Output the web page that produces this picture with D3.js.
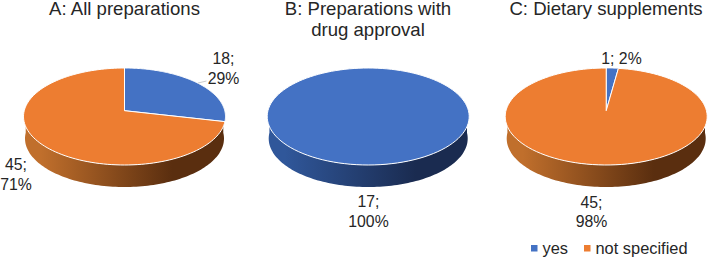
<!DOCTYPE html>
<html>
<head>
<meta charset="utf-8">
<script src="https://cdn.jsdelivr.net/npm/d3@7"></script>
<style>
  html, body { margin: 0; padding: 0; background: #ffffff; }
  text { font-family: "Liberation Sans", Arial, sans-serif; fill: #262626; }
</style>
</head>
<body>
<div id="chart"></div>
<script>
var seriesNames = ["yes", "not specified"];
var panelTitles = [["A: All preparations"], ["B: Preparations with", "drug approval"], ["C: Dietary supplements"]];
var yesValues = [18, 17, 1];
var notSpecifiedValues = [45, 0, 45];
var yesPercents = [29, 100, 2];
var notSpecifiedPercents = [71, 0, 98];

var colors = ["#4472c4", "#ed7d31"];
var sideStops = [
    ["#30579a", "#1a2b50"],
    ["#c06f2c", "#5a2e0f"]
];

var svg = d3.select("#chart").append("svg")
    .attr("width", 708)
    .attr("height", 258);

var defs = svg.append("defs");
sideStops.forEach(function(s, i) {
    var grad = defs.append("linearGradient").attr("id", "side" + i);
    grad.append("stop").attr("offset", "0.08").attr("stop-color", s[0]);
    grad.append("stop").attr("offset", "0.74").attr("stop-color", s[1]);
});

// tilt of the disc, the centre sits above the middle of the ellipse
var rx = 101, discTop = 68, discBottom = 165, mid = 110.7, depth = 22;
var tilt = (2 * mid - discTop - discBottom) / (discTop - discBottom);
var yk = discTop * (1 + tilt) - mid;

function project(cx, angle, shift, shrink) {
    var u = Math.sin(angle), v = Math.cos(angle), w = 1 + tilt * v;
    return [cx + (rx - shrink) * Math.sqrt(1 - tilt * tilt) * u / w, (yk * v + mid) / w + shift];
}

function slicePath(cx, a0, a1, full) {
    var pts = d3.range(0, 121).map(function(i) {
        return project(cx, a0 + (a1 - a0) * i / 120, 0, 0);
    });
    if (full) return d3.line()(pts) + "Z";
    return d3.line()([[cx, mid]].concat(pts)) + "Z";
}

function sidePath(cx) {
    var steps = d3.range(0, 121).map(function(i) { return Math.PI / 2 + Math.PI * i / 120; });
    var lower = steps.map(function(a) { return project(cx, a, depth, 1.5); });
    var upper = steps.slice().reverse().map(function(a) { return project(cx, a, 0, 1.5); });
    return d3.line()(lower.concat(upper)) + "Z";
}

var pie = d3.pie().sort(null);
var centers = [124.5, 368.2, 606.2];
var titleX = [124.5, 368, 606];

// side colour: panel B is all blue, the others show orange at the front
var sideIndex = [1, 0, 1];

centers.forEach(function(cx, p) {
    var g = svg.append("g");
    g.append("path")
        .attr("d", sidePath(cx))
        .attr("fill", "url(#side" + sideIndex[p] + ")");

    var arcs = pie([yesValues[p], notSpecifiedValues[p]]);
    arcs.forEach(function(a, i) {
        if (a.value === 0) return;
        g.append("path")
            .attr("d", slicePath(cx, a.startAngle, a.endAngle, a.endAngle - a.startAngle > 6.28))
            .attr("fill", colors[i])
            .attr("stroke", "#ffffff")
            .attr("stroke-width", 1)
            .attr("stroke-linejoin", "round");
    });

    panelTitles[p].forEach(function(line, i) {
        g.append("text")
            .attr("x", titleX[p])
            .attr("y", 15 + i * 21)
            .attr("text-anchor", "middle")
            .attr("font-size", 18.6)
            .text(line);
    });
});

// leader line of label A
svg.append("line")
    .attr("x1", 198).attr("y1", 83).attr("x2", 206.5).attr("y2", 81)
    .attr("stroke", "#bfbfbf").attr("stroke-width", 0.8);

function dataLabel(x, y, lines) {
    lines.forEach(function(line, i) {
        svg.append("text")
            .attr("x", x)
            .attr("y", y + i * 19.6)
            .attr("text-anchor", "middle")
            .attr("font-size", 15.8)
            .text(line);
    });
}

dataLabel(223.5, 64, [yesValues[0] + ";", yesPercents[0] + "%"]);
dataLabel(16, 170, [notSpecifiedValues[0] + ";", notSpecifiedPercents[0] + "%"]);
dataLabel(368.5, 207, [yesValues[1] + ";", yesPercents[1] + "%"]);
dataLabel(621.5, 63.5, [yesValues[2] + "; " + yesPercents[2] + "%"]);
dataLabel(591.5, 207.5, [notSpecifiedValues[2] + ";", notSpecifiedPercents[2] + "%"]);

// legend
var legendX = [531, 584];
seriesNames.forEach(function(name, i) {
    svg.append("rect")
        .attr("x", legendX[i]).attr("y", 245)
        .attr("width", 6.5).attr("height", 6.5)
        .attr("fill", colors[i]);
    svg.append("text")
        .attr("x", legendX[i] + 11.5)
        .attr("y", 254)
        .attr("font-size", 16.4)
        .text(name);
});
</script>
</body>
</html>
